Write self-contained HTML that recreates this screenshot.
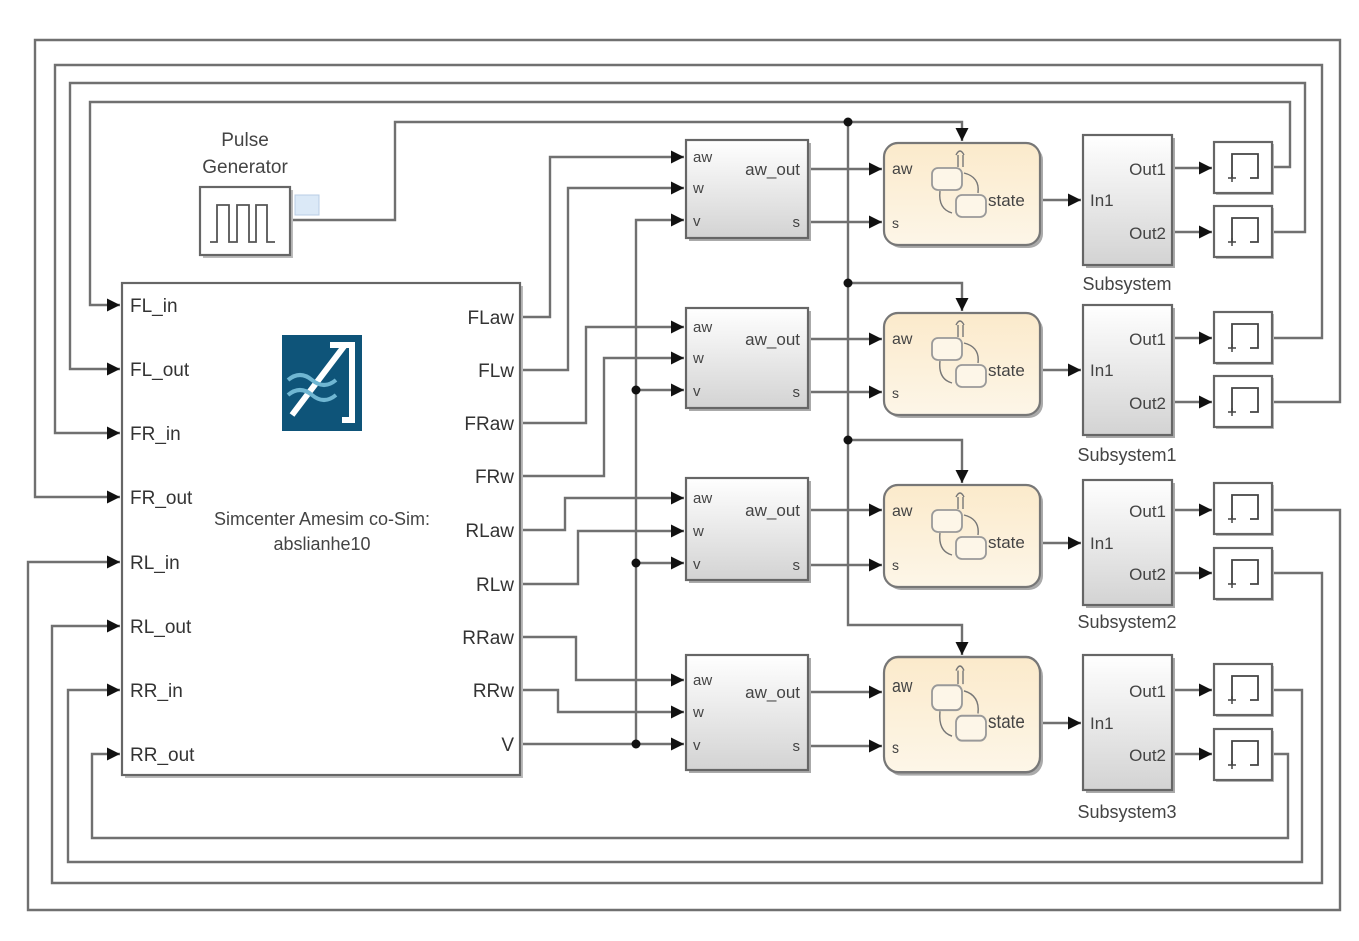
<!DOCTYPE html>
<html><head><meta charset="utf-8"><style>
html,body{margin:0;padding:0;background:#fff;}
svg{display:block;font-family:"Liberation Sans",sans-serif;}
</style></head><body>
<svg width="1359" height="941" viewBox="0 0 1359 941" xmlns="http://www.w3.org/2000/svg">
<defs>
<marker id="a" viewBox="0 0 10 10" refX="10" refY="5" markerWidth="13" markerHeight="13" markerUnits="userSpaceOnUse" orient="auto"><path d="M0,0L10,5L0,10z" fill="#111"/></marker>
<linearGradient id="g" x1="0" y1="0" x2="0" y2="1"><stop offset="0" stop-color="#fff"/><stop offset="1" stop-color="#d3d3d3"/></linearGradient>
<linearGradient id="y" x1="0" y1="0" x2="0" y2="1"><stop offset="0" stop-color="#fbeacb"/><stop offset="1" stop-color="#fdf6e8"/></linearGradient>
<g id="chart">
<rect x="3" y="3" width="156" height="102" rx="14" fill="#aaa"/>
<rect x="0" y="0" width="156" height="102" rx="14" fill="url(#y)" stroke="#777" stroke-width="2.2"/>
<rect x="48" y="25" width="30" height="22" rx="6" fill="#fdf6e8" stroke="#999" stroke-width="1.8"/>
<rect x="72" y="52" width="30" height="22" rx="6" fill="#fdf6e8" stroke="#999" stroke-width="1.8"/>
<path d="M72,12 q4,-8 8,0 M74,12v12 M79,12v12 M80,30 q16,4 14,20 M68,70 q-14,-4 -12,-22" fill="none" stroke="#777" stroke-width="1.4"/>
<text x="8" y="31" font-size="16" fill="#444">aw</text>
<text x="8" y="85" font-size="14" fill="#444">s</text>
<text x="104" y="63" font-size="17" fill="#444">state</text>
</g>
<g id="scope">
<rect x="2" y="2" width="58" height="51" fill="#bbb"/>
<rect x="0" y="0" width="58" height="51" fill="#fff" stroke="#666" stroke-width="2.2"/>
<path d="M18,36V12H44V36H36" fill="none" stroke="#444" stroke-width="1.8"/>
<path d="M14,36h8M18,32v8" stroke="#444" stroke-width="1.5"/>
</g>
</defs>

<g fill="none" stroke="#707070" stroke-width="2.4">
<path d="M1272,402H1340V40H35V497H120" marker-end="url(#a)"/>
<path d="M1272,338H1322V65H55V433H120" marker-end="url(#a)"/>
<path d="M1272,232H1305V83H70V369H120" marker-end="url(#a)"/>
<path d="M1272,167H1290V102H90V305H120" marker-end="url(#a)"/>
<path d="M1272,510H1340V910H28V562H120" marker-end="url(#a)"/>
<path d="M1272,573H1322V883H52V626H120" marker-end="url(#a)"/>
<path d="M1272,690H1302V862H68V690H120" marker-end="url(#a)"/>
<path d="M1272,754H1288V838H92V754H120" marker-end="url(#a)"/>
<path d="M290,220H395V122H962V141" marker-end="url(#a)"/>
<path d="M848,122V625H962V655" marker-end="url(#a)"/>
<path d="M848,283H962V311" marker-end="url(#a)"/>
<path d="M848,440H962V483" marker-end="url(#a)"/>
<path d="M520,317H550V157H684" marker-end="url(#a)"/>
<path d="M520,370H568V188H684" marker-end="url(#a)"/>
<path d="M520,423H586V327H684" marker-end="url(#a)"/>
<path d="M520,476H604V358H684" marker-end="url(#a)"/>
<path d="M520,530H565V498H684" marker-end="url(#a)"/>
<path d="M520,584H578V531H684" marker-end="url(#a)"/>
<path d="M520,637H576V680H684" marker-end="url(#a)"/>
<path d="M520,690H558V712H684" marker-end="url(#a)"/>
<path d="M520,744H684" marker-end="url(#a)"/>
<path d="M636,744V220H684" marker-end="url(#a)"/>
<path d="M636,390H684" marker-end="url(#a)"/>
<path d="M636,563H684" marker-end="url(#a)"/>
<path d="M808,169H882" marker-end="url(#a)"/><path d="M808,222H882" marker-end="url(#a)"/>
<path d="M808,339H882" marker-end="url(#a)"/><path d="M808,392H882" marker-end="url(#a)"/>
<path d="M808,510H882" marker-end="url(#a)"/><path d="M808,565H882" marker-end="url(#a)"/>
<path d="M808,692H882" marker-end="url(#a)"/><path d="M808,746H882" marker-end="url(#a)"/>
<path d="M1040,200H1081" marker-end="url(#a)"/>
<path d="M1040,370H1081" marker-end="url(#a)"/>
<path d="M1040,543H1081" marker-end="url(#a)"/>
<path d="M1040,723H1081" marker-end="url(#a)"/>
<path d="M1172,168H1212" marker-end="url(#a)"/><path d="M1172,232H1212" marker-end="url(#a)"/>
<path d="M1172,338H1212" marker-end="url(#a)"/><path d="M1172,402H1212" marker-end="url(#a)"/>
<path d="M1172,510H1212" marker-end="url(#a)"/><path d="M1172,573H1212" marker-end="url(#a)"/>
<path d="M1172,690H1212" marker-end="url(#a)"/><path d="M1172,754H1212" marker-end="url(#a)"/>
</g>
<g fill="#111">
<circle cx="848" cy="122" r="4.5"/><circle cx="848" cy="283" r="4.5"/><circle cx="848" cy="440" r="4.5"/>
<circle cx="636" cy="744" r="4.5"/><circle cx="636" cy="390" r="4.5"/><circle cx="636" cy="563" r="4.5"/>
</g>

<text x="245" y="146" font-size="19" fill="#444" text-anchor="middle">Pulse</text>
<text x="245" y="173" font-size="19" fill="#444" text-anchor="middle">Generator</text>
<rect x="203" y="190" width="90" height="68" fill="#bbb"/>
<rect x="200" y="187" width="90" height="68" fill="#fff" stroke="#666" stroke-width="2.2"/>
<path d="M210,242H217V205H229V242H237V205H249V242H256V205H267V242H275" fill="none" stroke="#555" stroke-width="1.8"/>
<rect x="295" y="195" width="24" height="20" fill="#dbe9f7" stroke="#b8cde4"/>

<rect x="125" y="286" width="398" height="492" fill="#bbb"/>
<rect x="122" y="283" width="398" height="492" fill="#fff" stroke="#666" stroke-width="2.2"/>
<rect x="282" y="335" width="80" height="96" fill="#0e5479"/>
<path d="M292,415L345,345H330M345,345H352V420H342" fill="none" stroke="#fff" stroke-width="6"/>
<path d="M288,380q12,-10 24,0t24,0M288,395q12,-10 24,0t24,0" fill="none" stroke="#6fb6d2" stroke-width="4"/>
<g font-size="19" fill="#333">
<text x="130" y="312">FL_in</text><text x="130" y="376">FL_out</text>
<text x="130" y="440">FR_in</text><text x="130" y="504">FR_out</text>
<text x="130" y="569">RL_in</text><text x="130" y="633">RL_out</text>
<text x="130" y="697">RR_in</text><text x="130" y="761">RR_out</text>
</g>
<g font-size="19" fill="#333" text-anchor="end">
<text x="514" y="324">FLaw</text><text x="514" y="377">FLw</text>
<text x="514" y="430">FRaw</text><text x="514" y="483">FRw</text>
<text x="514" y="537">RLaw</text><text x="514" y="591">RLw</text>
<text x="514" y="644">RRaw</text><text x="514" y="697">RRw</text>
<text x="514" y="751">V</text>
</g>
<text x="322" y="525" font-size="18" fill="#444" text-anchor="middle">Simcenter Amesim co-Sim:</text>
<text x="322" y="550" font-size="18" fill="#444" text-anchor="middle">abslianhe10</text>

<g font-size="15" fill="#444">
<rect x="689" y="143" width="122" height="98" fill="#aaa"/><rect x="686" y="140" width="122" height="98" fill="url(#g)" stroke="#666" stroke-width="2.2"/>
<text x="693" y="162">aw</text><text x="693" y="193">w</text><text x="693" y="226">v</text><text x="800" y="175" text-anchor="end" font-size="17">aw_out</text><text x="800" y="227" text-anchor="end">s</text>
<rect x="689" y="311" width="122" height="100" fill="#aaa"/><rect x="686" y="308" width="122" height="100" fill="url(#g)" stroke="#666" stroke-width="2.2"/>
<text x="693" y="332">aw</text><text x="693" y="363">w</text><text x="693" y="396">v</text><text x="800" y="345" text-anchor="end" font-size="17">aw_out</text><text x="800" y="397" text-anchor="end">s</text>
<rect x="689" y="481" width="122" height="102" fill="#aaa"/><rect x="686" y="478" width="122" height="102" fill="url(#g)" stroke="#666" stroke-width="2.2"/>
<text x="693" y="503">aw</text><text x="693" y="536">w</text><text x="693" y="569">v</text><text x="800" y="516" text-anchor="end" font-size="17">aw_out</text><text x="800" y="570" text-anchor="end">s</text>
<rect x="689" y="658" width="122" height="115" fill="#aaa"/><rect x="686" y="655" width="122" height="115" fill="url(#g)" stroke="#666" stroke-width="2.2"/>
<text x="693" y="685">aw</text><text x="693" y="717">w</text><text x="693" y="750">v</text><text x="800" y="698" text-anchor="end" font-size="17">aw_out</text><text x="800" y="751" text-anchor="end">s</text>
</g>

<use href="#chart" x="884" y="143"/>
<use href="#chart" x="884" y="313"/>
<use href="#chart" x="884" y="485"/>
<g transform="translate(884,657) scale(1,1.13)"><use href="#chart"/></g>

<g font-size="17" fill="#444">
<rect x="1086" y="138" width="89" height="130" fill="#aaa"/><rect x="1083" y="135" width="89" height="130" fill="url(#g)" stroke="#666" stroke-width="2.2"/>
<text x="1090" y="206">In1</text><text x="1166" y="175" text-anchor="end">Out1</text><text x="1166" y="239" text-anchor="end">Out2</text>
<text x="1127" y="290" text-anchor="middle" font-size="18">Subsystem</text>
<rect x="1086" y="308" width="89" height="130" fill="#aaa"/><rect x="1083" y="305" width="89" height="130" fill="url(#g)" stroke="#666" stroke-width="2.2"/>
<text x="1090" y="376">In1</text><text x="1166" y="345" text-anchor="end">Out1</text><text x="1166" y="409" text-anchor="end">Out2</text>
<text x="1127" y="461" text-anchor="middle" font-size="18">Subsystem1</text>
<rect x="1086" y="483" width="89" height="125" fill="#aaa"/><rect x="1083" y="480" width="89" height="125" fill="url(#g)" stroke="#666" stroke-width="2.2"/>
<text x="1090" y="549">In1</text><text x="1166" y="517" text-anchor="end">Out1</text><text x="1166" y="580" text-anchor="end">Out2</text>
<text x="1127" y="628" text-anchor="middle" font-size="18">Subsystem2</text>
<rect x="1086" y="658" width="89" height="135" fill="#aaa"/><rect x="1083" y="655" width="89" height="135" fill="url(#g)" stroke="#666" stroke-width="2.2"/>
<text x="1090" y="729">In1</text><text x="1166" y="697" text-anchor="end">Out1</text><text x="1166" y="761" text-anchor="end">Out2</text>
<text x="1127" y="818" text-anchor="middle" font-size="18">Subsystem3</text>
</g>

<use href="#scope" x="1214" y="142"/><use href="#scope" x="1214" y="206"/>
<use href="#scope" x="1214" y="312"/><use href="#scope" x="1214" y="376"/>
<use href="#scope" x="1214" y="483"/><use href="#scope" x="1214" y="548"/>
<use href="#scope" x="1214" y="664"/><use href="#scope" x="1214" y="729"/>
</svg>
</body></html>
